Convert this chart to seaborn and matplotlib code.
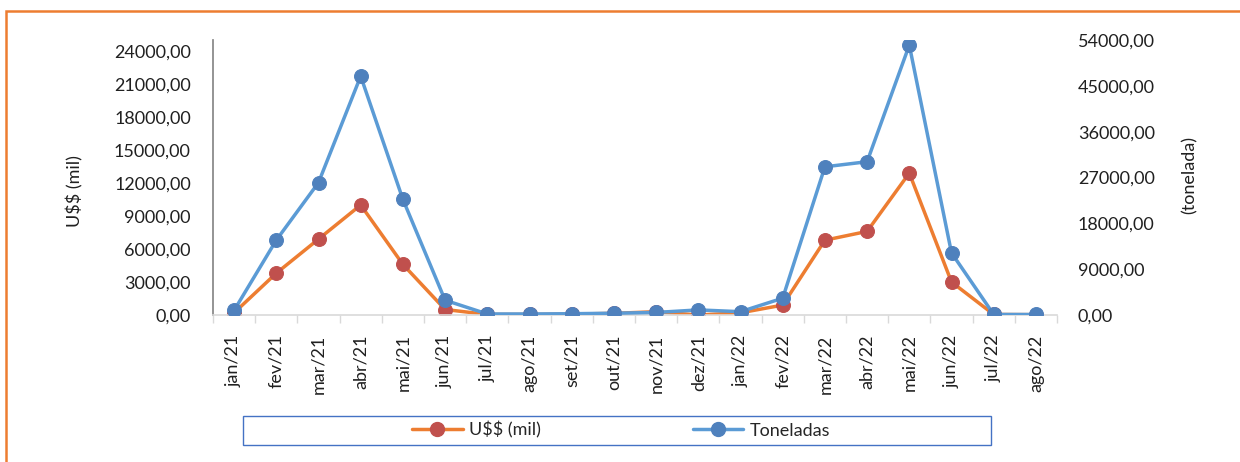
import matplotlib
matplotlib.use("Agg")
import matplotlib.pyplot as plt
import seaborn as sns
import pandas as pd
from matplotlib.patches import Rectangle
from matplotlib.lines import Line2D
from matplotlib.ticker import FixedLocator

# ── Data ───────────────────────────────────────────────
meses = ['jan/21', 'fev/21', 'mar/21', 'abr/21', 'mai/21', 'jun/21', 'jul/21',
         'ago/21', 'set/21', 'out/21', 'nov/21', 'dez/21', 'jan/22', 'fev/22',
         'mar/22', 'abr/22', 'mai/22', 'jun/22', 'jul/22', 'ago/22']
valor_mil = [200, 3800, 6900, 10000, 4600, 500, 50, 50, 80, 150,
             300, 0, 200, 900, 6800, 7600, 12900, 3000, 50, 30]
toneladas = [900, 14700, 26000, 46900, 22700, 2900, 200, 200, 250, 350,
             500, 1000, 650, 3300, 29100, 30100, 53000, 12200, 100, 100]
ticks_esq = [0, 3000, 6000, 9000, 12000, 15000, 18000, 21000, 24000]
ticks_dir = [0, 9000, 18000, 27000, 36000, 45000, 54000]
# ───────────────────────────────────────────────────────

LARANJA, VERMELHO = '#ED7D31', '#C0504D'
AZUL_LINHA, AZUL_PONTO = '#5B9BD5', '#4F81BD'
FS = 13

sns.set_theme(style='white')
plt.rcParams['font.family'] = ['Lato', 'DejaVu Sans']
plt.rcParams['text.parse_math'] = False

df = pd.DataFrame({'mes': meses, 'usd': valor_mil, 'ton': toneladas})
df['pos'] = range(len(df))

def fmt(v):
    return f'{v:.2f}'.replace('.', ',')

fig = plt.figure(figsize=(12.4, 4.62), dpi=100)
ax = fig.add_axes([213 / 1240, 1 - 315 / 462, 844 / 1240, 275 / 462])
ax2 = ax.twinx()

sns.lineplot(data=df, x='pos', y='usd', ax=ax, color=LARANJA, lw=2.5,
             marker='o', markersize=10, markerfacecolor=VERMELHO,
             markeredgecolor=VERMELHO, sort=False)
sns.lineplot(data=df, x='pos', y='ton', ax=ax2, color=AZUL_LINHA, lw=2.5,
             marker='o', markersize=10, markerfacecolor=AZUL_PONTO,
             markeredgecolor=AZUL_PONTO, sort=False)

ax.set_xlim(-0.5, len(meses) - 0.5)
ax.set_ylim(0, 25000)
ax2.set_ylim(0, 54000)

ax.set_xticks(df['pos'])
ax.set_xticklabels(meses, rotation=90, fontsize=FS, color='#202020')
ax.xaxis.set_minor_locator(FixedLocator([p - 0.5 for p in range(len(meses) + 1)]))
ax.tick_params(axis='x', which='major', length=0, pad=14)
ax.tick_params(axis='x', which='minor', length=6, width=1, color='#D9D9D9',
               direction='out', bottom=True)

ax.set_yticks(ticks_esq)
ax.set_yticklabels([fmt(t) for t in ticks_esq], fontsize=FS, color='#202020')
ax.tick_params(axis='y', length=0, pad=16)
ax2.set_yticks(ticks_dir)
ax2.set_yticklabels([fmt(t) for t in ticks_dir], fontsize=FS, color='#202020')
ax2.tick_params(axis='y', length=0, pad=15)

for a in (ax, ax2):
    for s in a.spines.values():
        s.set_visible(False)
ax.spines['left'].set_visible(True)
ax.spines['left'].set_color('#868686')
ax.spines['left'].set_bounds(0, 25000)
ax.spines['bottom'].set_visible(True)
ax.spines['bottom'].set_color('#D9D9D9')
ax.spines['bottom'].set_linewidth(1.2)

ax.set_xlabel('')
ax.set_ylabel('U$$ (mil)', fontsize=FS, color='#202020')
ax.yaxis.set_label_coords(-0.153, 0.45)
ax2.set_ylabel('(tonelada)', fontsize=FS, color='#202020', rotation=90)
ax2.yaxis.set_label_coords(1.147, 0.51)

# legend
handles = [
    Line2D([], [], color=LARANJA, lw=2.5, marker='o', markersize=10,
           markerfacecolor=VERMELHO, markeredgecolor=VERMELHO),
    Line2D([], [], color=AZUL_LINHA, lw=2.5, marker='o', markersize=10,
           markerfacecolor=AZUL_PONTO, markeredgecolor=AZUL_PONTO),
]
fig.legend(handles, ['U$$ (mil)', 'Toneladas'], loc='center',
           bbox_to_anchor=(621 / 1240, 1 - 430 / 462), ncol=2, frameon=False,
           fontsize=FS, handlelength=2.8, handletextpad=0.35,
           columnspacing=8.4, markerscale=1.0)
fig.patches.append(Rectangle((243 / 1240, 1 - 445 / 462), 748 / 1240, 29 / 462,
                             transform=fig.transFigure, fill=False,
                             edgecolor='#4472C4', lw=1.0))

# outer orange frame (cut at right/bottom)
fig.patches.append(Rectangle((6 / 1240, -0.05), 1.1, 1.05 - 11 / 462,
                             transform=fig.transFigure, fill=False,
                             edgecolor=LARANJA, lw=1.8, clip_on=True))

fig.savefig('out.png', dpi=100)
plt.close(fig)
